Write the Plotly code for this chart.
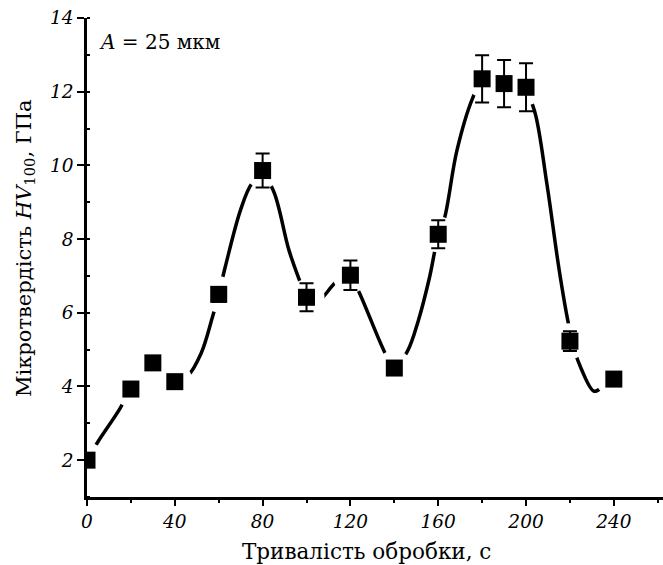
import plotly.graph_objects as go

# Measured microhardness vs. treatment time
time_s = [0, 20, 30, 40, 60, 80, 100, 120, 140, 160, 180, 190, 200, 220, 240]
hv100 = [2.0, 3.93, 4.64, 4.13, 6.5, 9.86, 6.42, 7.02, 4.5, 8.13, 12.35, 12.22, 12.12, 5.23, 4.2]
hv_err = [0, 0, 0, 0, 0.2, 0.46, 0.38, 0.4, 0, 0.38, 0.64, 0.64, 0.65, 0.27, 0]

# Smoothed trend curve (control points of the fitted line)
fit_t = [0, 5, 15, 20, 25, 30, 36, 41, 46, 52, 57, 60, 63, 70, 75, 80, 85, 92, 97,
         100, 104, 114, 120, 124, 136, 140, 146, 151, 156, 160, 163, 168.5, 175.5,
         180, 190, 200, 204, 209.5, 215, 219, 222, 225, 231, 235, 240]
fit_hv = [2.0, 2.5, 3.4, 3.95, 4.3, 4.45, 4.3, 4.2, 4.3, 4.9, 5.85, 6.5, 7.25, 8.8, 9.5,
          9.75, 9.3, 7.7, 6.85, 6.4, 6.25, 6.86, 7.0, 6.55, 4.88, 4.5, 4.96, 5.8, 6.95,
          8.1, 8.6, 10.4, 11.8, 12.3, 12.45, 12.0, 11.45, 9.5, 7.2, 5.8, 5.0, 4.5,
          3.87, 4.0, 4.2]

x_ticks = [0, 40, 80, 120, 160, 200, 240]
y_ticks = [2, 4, 6, 8, 10, 12, 14]

SERIF = "DejaVu Serif"

# plot area in pixels
L, T, W, H = 87, 18, 576, 479

fig = go.Figure()

fig.add_trace(go.Scatter(
    x=fit_t, y=fit_hv, mode="lines",
    line=dict(color="black", width=3.5, shape="spline", smoothing=1.0),
    hoverinfo="skip", showlegend=False,
))

# white halo to break the curve around each symbol
fig.add_trace(go.Scatter(
    x=time_s, y=hv100, mode="markers",
    marker=dict(symbol="circle", size=36, color="white", line=dict(width=0)),
    hoverinfo="skip", showlegend=False,
))

fig.add_trace(go.Scatter(
    x=time_s, y=hv100, mode="markers",
    marker=dict(symbol="square", size=17, color="black", line=dict(width=0)),
    error_y=dict(type="data", array=hv_err, visible=True,
                 color="black", thickness=2, width=7),
    showlegend=False,
))

tick_font = dict(family=SERIF, size=18.5, color="black", style="italic")

fig.update_xaxes(
    range=[0, 262.4], tickvals=x_ticks, ticktext=[str(v) for v in x_ticks],
    showline=True, linewidth=3, linecolor="black", mirror=False,
    ticks="outside", ticklen=6, tickwidth=2, tickcolor="black",
    minor=dict(dtick=20, tick0=0, ticks="outside", ticklen=3, tickwidth=2, tickcolor="black"),
    showgrid=False, zeroline=False, tickfont=tick_font, layer="above traces",
)
fig.update_yaxes(
    range=[1, 14], tickvals=y_ticks, ticktext=[str(v) for v in y_ticks],
    showline=True, linewidth=2.5, linecolor="black", mirror=False,
    ticks="outside", ticklen=7, tickwidth=2, tickcolor="black",
    minor=dict(dtick=1, tick0=0, ticks="inside", ticklen=3, tickwidth=2, tickcolor="black"),
    showgrid=False, zeroline=False, tickfont=tick_font, layer="above traces",
)


def px_x(p):
    return (p - L) / W


def px_y(p):
    return (T + H - p) / H


fig.add_annotation(
    x=px_x(97), y=px_y(42), xref="paper", yref="paper",
    xanchor="left", yanchor="middle",
    text="<i>A</i> = 25 мкм", showarrow=False,
    font=dict(family=SERIF, size=20, color="black"),
)
fig.add_annotation(
    x=px_x(366), y=px_y(551), xref="paper", yref="paper",
    xanchor="center", yanchor="middle", showarrow=False,
    text="Тривалість обробки, с",
    font=dict(family=SERIF, size=21.5, color="black"),
)
fig.add_annotation(
    x=px_x(25), y=px_y(248), xref="paper", yref="paper",
    xanchor="center", yanchor="middle", textangle=-90, showarrow=False,
    text="Мікротвердість <i>HV</i><sub>100</sub>, ГПа",
    font=dict(family=SERIF, size=21, color="black"),
)

fig.update_layout(
    width=663, height=565,
    margin=dict(l=L, r=663 - L - W, t=T, b=565 - T - H),
    paper_bgcolor="white", plot_bgcolor="white",
)

fig.write_html("out.html")
